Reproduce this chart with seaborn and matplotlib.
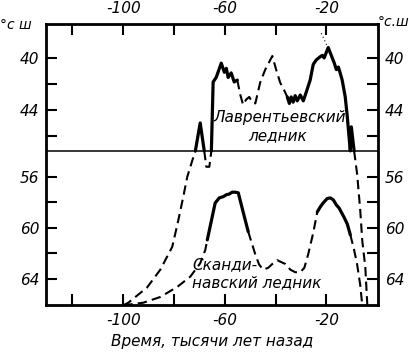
import numpy as np
import pandas as pd
import matplotlib
matplotlib.use("Agg")
import matplotlib.pyplot as plt
import seaborn as sns
from matplotlib.ticker import FixedLocator

sns.set_style("ticks")
matplotlib.rcParams['axes.unicode_minus'] = False
plt.rcParams['font.family'] = ['DejaVu Sans']
plt.rcParams.update({'text.color': 'black', 'axes.edgecolor': 'black',
                     'axes.labelcolor': 'black', 'xtick.color': 'black',
                     'ytick.color': 'black'})

# --- data: time (thousand years ago) and latitude of ice margin (deg N) ---
# Laurentide ice sheet
laur_rise_x = [-100, -98.0, -90.6, -85.4, -80.7, -78.3, -76.4, -74.8, -72.8, -71.6]
laur_rise_lat = [66.1, 65.9, 64.7, 63.3, 61.5, 59.4, 57.6, 56.0, 54.7, 53.95]
laur_spike_x = [-71.6, -69.7, -68.1]
laur_spike_lat = [47.15, 45.0, 47.15]
laur_v_x = [-68.1, -67.3, -66.1, -65.3]
laur_v_lat = [53.95, 55.2, 55.2, 53.95]
laur_a_x = [-65.3, -64.6, -63.4, -61.4, -60.2, -59.4, -58.7, -57.5, -56.3, -55.1]
laur_a_lat = [47.15, 41.85, 41.5, 40.4, 41.1, 40.8, 41.5, 41.15, 41.85, 41.7]
laur_b_x = [-55.1, -53.9, -52.8, -51.6, -50.4, -49.2, -48.0, -46.1, -44.1, -41.3,
            -39.8, -38.2, -36.6, -35.4]
laur_b_lat = [41.7, 42.85, 43.6, 43.2, 43.0, 43.4, 43.5, 41.9, 40.9, 39.85,
              40.9, 41.9, 42.5, 43.0]
laur_c_x = [-35.4, -34.6, -33.9, -33.1, -32.3, -31.5, -30.3, -29.1, -27.9, -26.4,
            -25.2, -24.0, -22.4, -21.6, -20.9, -19.3, -17.7, -16.9, -16.1, -15.3,
            -14.6, -13.8, -12.6, -11.8, -11.0, -10.6, -10.2, -9.1]
laur_c_lat = [43.0, 43.5, 43.0, 43.4, 42.9, 43.3, 42.85, 43.3, 42.6, 41.7,
              40.5, 40.15, 39.9, 39.8, 40.0, 39.2, 40.0, 40.4, 40.9, 40.7,
              41.15, 41.7, 43.0, 44.5, 46.3, 47.15, 45.3, 47.15]
laur_fall_x = [-9.1, -7.9, -6.7, -5.9, -4.7, -3.9]
laur_fall_lat = [53.95, 55.8, 58.6, 61.0, 63.1, 66.1]
laur_dot_x = [-22.0, -19.7]
laur_dot_lat = [38.1, 39.1]

# Scandinavian ice sheet
scan_a_x = [-100, -92.1, -85.4, -78.7, -73.6, -69.7, -67.7, -66.9]
scan_a_lat = [66.1, 65.9, 65.45, 64.65, 63.85, 62.8, 61.75, 60.95]
scan_b_x = [-66.9, -63.8, -62.2, -60.6, -59.4, -58.3, -57.1, -55.9, -54.7, -52.8, -50.8]
scan_b_lat = [60.95, 58.05, 57.65, 57.55, 57.4, 57.35, 57.2, 57.2, 57.25, 58.75, 60.3]
scan_c_x = [-50.8, -48.0, -46.5, -44.9, -42.9, -41.3, -39.4, -37.8, -36.2, -34.2,
            -32.3, -30.3, -28.7, -27.2, -25.2, -23.6]
scan_c_lat = [60.3, 62.1, 62.9, 63.3, 63.15, 62.85, 62.55, 62.7, 62.85, 63.3,
              63.5, 63.5, 63.15, 62.1, 60.4, 58.75]
scan_d_x = [-23.6, -22.4, -21.3, -19.7, -18.5, -17.3, -16.1, -15.0, -14.2, -13.0, -11.8, -10.6]
scan_d_lat = [58.75, 58.35, 58.05, 57.7, 57.65, 57.8, 58.2, 58.45, 58.75, 59.2, 59.7, 60.55]
scan_e_x = [-10.6, -9.1, -7.9, -6.7, -5.9]
scan_e_lat = [60.55, 61.75, 62.9, 64.5, 66.1]

segments = [
    (laur_rise_x, laur_rise_lat, "dashed"),
    (laur_spike_x, laur_spike_lat, "solid"),
    (laur_v_x, laur_v_lat, "dashed"),
    (laur_a_x, laur_a_lat, "solid"),
    (laur_b_x, laur_b_lat, "dashed"),
    (laur_c_x, laur_c_lat, "solid"),
    (laur_fall_x, laur_fall_lat, "dashed"),
    (laur_dot_x, laur_dot_lat, "dotted"),
    (scan_a_x, scan_a_lat, "dashed"),
    (scan_b_x, scan_b_lat, "solid"),
    (scan_c_x, scan_c_lat, "dashed"),
    (scan_d_x, scan_d_lat, "solid"),
    (scan_e_x, scan_e_lat, "dashed"),
]
rows = []
for i, (xs, ys, kind) in enumerate(segments):
    for x, y in zip(xs, ys):
        rows.append({"x": x, "lat": y, "seg": i, "kind": kind})
df = pd.DataFrame(rows)

# broken latitude axis: 47.15 (top panel) joins 53.95 (bottom panel)
G0, G1 = 47.15, 53.95
K0, K1 = 13.0, 12.7


def fwd(v):
    v = np.asarray(v, dtype=float)
    return np.where(v <= G0, v * K0, np.where(v >= G1, G0 * K0 + (v - G1) * K1, G0 * K0))


def inv(u):
    u = np.asarray(u, dtype=float)
    return np.where(u <= G0 * K0, u / K0, G1 + (u - G0 * K0) / K1)


fig = plt.figure(figsize=(4.1, 3.55), dpi=100)
ax = fig.add_axes([46 / 410, 50 / 355, 332 / 410, 281 / 355])
ax.set_yscale('function', functions=(fwd, inv))

sns.lineplot(data=df, x="x", y="lat", units="seg", estimator=None, sort=False,
             style="kind", dashes={"solid": "", "dashed": (4.5, 2.5), "dotted": (1, 2.5)},
             size="kind", sizes={"solid": 2.3, "dashed": 1.5, "dotted": 0.8},
             color="black", legend=False, ax=ax)

ax.axhline(G0, color="black", lw=1.1)

ax.set_xlim(-130.4, 0.3)
ax.set_ylim(66.08, 37.39)

ax.xaxis.set_major_locator(FixedLocator([-100, -60, -20]))
ax.xaxis.set_minor_locator(FixedLocator([-120, -80, -40]))
ax.yaxis.set_major_locator(FixedLocator([40, 44, 56, 60, 64]))
ax.yaxis.set_minor_locator(FixedLocator([42, 46, 58, 62]))
ax.tick_params(axis="both", which="both", direction="in", length=8, width=1.5,
               top=True, bottom=True, left=True, right=True)
ax.tick_params(axis="x", which="major", labeltop=True, labelbottom=True, pad=6)
ax.tick_params(axis="y", which="major", labelleft=True, labelright=True, pad=5)
for axis in (ax.xaxis, ax.yaxis):
    for t in axis.get_major_ticks():
        for lab in (t.label1, t.label2):
            lab.set_fontstyle("italic")
            lab.set_fontsize(11)

for s in ax.spines.values():
    s.set_linewidth(2)

ax.set_xlabel("Время, тысячи лет назад", fontsize=11, fontstyle="italic", labelpad=4)
ax.set_ylabel("")

ax.text(-38.5, 44.6, "Лаврентьевский", ha="center", va="center", fontsize=11, fontstyle="italic")
ax.text(-39.4, 46.0, "ледник", ha="center", va="center", fontsize=11, fontstyle="italic")
ax.text(-72.8, 62.9, "Сканди-", ha="left", va="center", fontsize=11, fontstyle="italic")
ax.text(-72.8, 64.35, "навский ледник", ha="left", va="center", fontsize=11, fontstyle="italic")

fig.text(16 / 410, 1 - 25 / 355, "°с ш", ha="center", va="center", fontsize=10, fontstyle="italic")
fig.text(394 / 410, 1 - 22 / 355, "°с.ш", ha="center", va="center", fontsize=10, fontstyle="italic")

fig.savefig("out.png", dpi=100)
